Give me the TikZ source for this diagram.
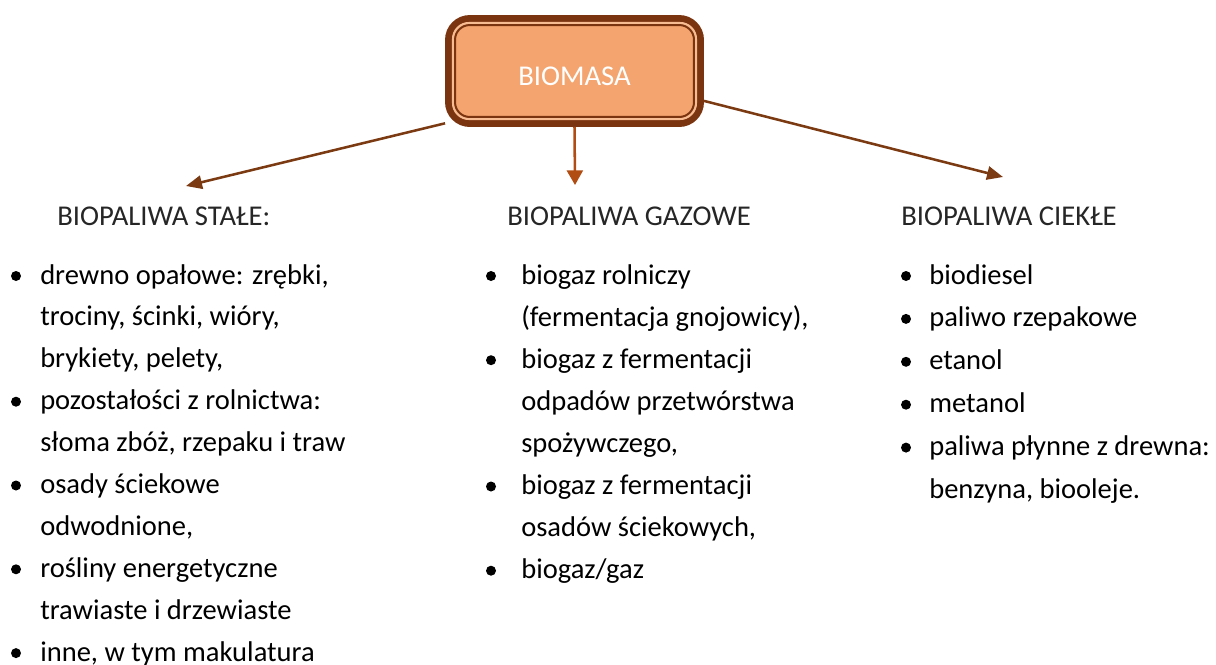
\documentclass[tikz,border=0pt]{standalone}
\usepackage{fontspec}
\setmainfont{Carlito}
\usetikzlibrary{arrows.meta}

\begin{document}
\begin{tikzpicture}[x=0.75pt, y=-0.75pt,
    mainbox/.style={draw=borderBrown, line width=5.2pt, fill=fillOrange,
        rounded corners=16pt, minimum width=189pt, minimum height=78.75pt,
        inner sep=0pt, text=white, text height=21pt, text depth=0pt,
        font=\fontsize{21.5}{25}\selectfont},
    heading/.style={anchor=base west, inner sep=0pt, text=textGrey,
        font=\fontsize{21.5}{24}\selectfont},
    listline/.style={anchor=base west, inner sep=0pt,
        font=\fontsize{21.4}{24}\selectfont},
    link/.style={draw=arrowBrown, line width=1.9pt,
        -{Triangle[length=12pt, width=10pt]}}]

    % Colours
    \definecolor{borderBrown}{HTML}{7B3410}
    \definecolor{fillOrange}{HTML}{F4A46E}
    \definecolor{stripeOrange}{HTML}{F8BC92}
    \definecolor{arrowBrown}{HTML}{7B3A12}
    \definecolor{arrowOrange}{HTML}{B14C12}
    \definecolor{textGrey}{HTML}{262626}

    % Page size
    \useasboundingbox (0,0) rectangle (1216,664);

    % Central box
    \node[mainbox] (biomasa) at (574.5,71) {BIOMASA};
    \draw[stripeOrange, line width=1.6pt, rounded corners=12pt]
        ([shift={(8,8)}]biomasa.north west) rectangle ([shift={(-8,-8)}]biomasa.south east);
    \draw[borderBrown, line width=1.5pt, rounded corners=11pt]
        ([shift={(10,10)}]biomasa.north west) rectangle ([shift={(-10,-10)}]biomasa.south east);

    % Arrow tips
    \coordinate (stale) at (186,186);
    \coordinate (gazowe) at (575,185);
    \coordinate (ciekle) at (1003,177);

    % Arrows
    \draw[link] (biomasa.202) -- (stale);
    \draw[link, draw=arrowOrange, -{Triangle[length=11pt, width=12pt]}] (biomasa.south) -- (gazowe);
    \draw[link] (biomasa.-13) -- (ciekle);

    % Headings
    \node[heading] (staleHead) at (57,225) {BIOPALIWA STAŁE:};
    \node[heading] (gazoweHead) at (507,225) {BIOPALIWA GAZOWE};
    \node[heading] (ciekleHead) at (901,225) {BIOPALIWA CIEKŁE};

    % Solid biofuels
    \def\lineStep{41.9}
    \foreach \txt [count=\i from 0] in {{drewno opałowe: zrębki,}, {trociny, ścinki, wióry,},
        {brykiety, pelety,}, {pozostałości z rolnictwa:}, {słoma zbóż, rzepaku i traw},
        {osady ściekowe}, {odwodnione,}, {rośliny energetyczne},
        {trawiaste i drzewiaste}, {inne, w tym makulatura}}
        \node[listline] (stale\i) at (40,{284+\lineStep*\i}) {\txt};
    \foreach \i in {0,3,5,7,9}
        \fill (16,{276+\lineStep*\i}) circle (5);

    % Gaseous biofuels
    \def\lineStep{42.1}
    \foreach \txt [count=\i from 0] in {{biogaz rolniczy}, {(fermentacja gnojowicy),},
        {biogaz z fermentacji}, {odpadów przetwórstwa}, {spożywczego,},
        {biogaz z fermentacji}, {osadów ściekowych,}, {biogaz/gaz}}
        \node[listline] (gazowe\i) at (521,{284+\lineStep*\i}) {\txt};
    \foreach \i in {0,2,5,7}
        \fill (491,{276+\lineStep*\i}) circle (5);

    % Liquid biofuels
    \def\lineStep{42.9}
    \foreach \txt [count=\i from 0] in {{biodiesel}, {paliwo rzepakowe}, {etanol},
        {metanol}, {paliwa płynne z drewna:}, {benzyna, biooleje.}}
        \node[listline] (ciekle\i) at (929,{284+\lineStep*\i}) {\txt};
    \foreach \i in {0,...,4}
        \fill (906,{276+\lineStep*\i}) circle (5);

\end{tikzpicture}
\end{document}
